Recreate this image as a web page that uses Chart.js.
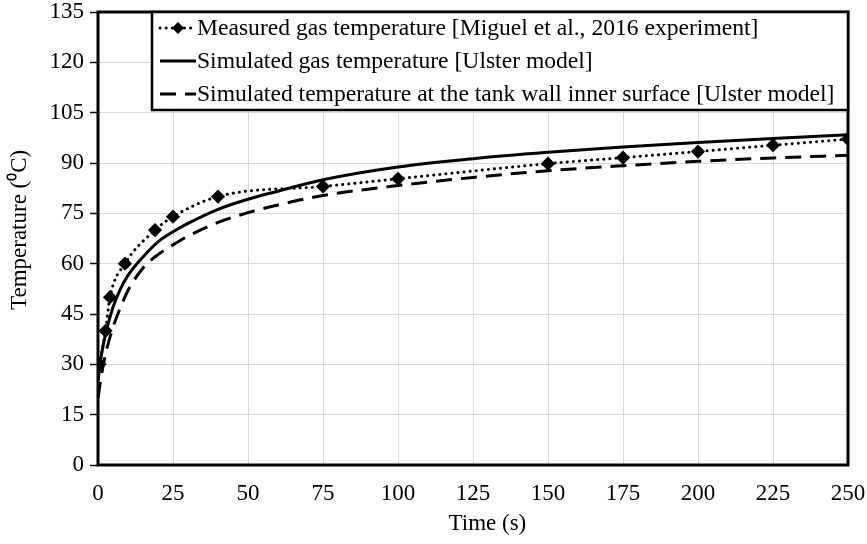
<!DOCTYPE html>
<html>
<head>
<meta charset="utf-8">
<script src="https://cdn.jsdelivr.net/npm/chart.js@4"></script>
<style>
  html, body { margin: 0; padding: 0; background: #fff; }
  #wrap { width: 867px; height: 544px; }
</style>
</head>
<body>
<div id="wrap"><canvas id="tempChart" width="867" height="544"></canvas></div>
<script>
// measured points (Miguel et al., 2016)
const measTime = [0.5, 2.5, 4, 9, 19, 25, 40, 75, 100, 150, 175, 200, 225, 250];
const measTemp = [30, 40, 50, 60, 70, 74, 80, 83, 85.3, 89.8, 91.6, 93.4, 95.3, 97.1];

// Ulster model curves
const simTime = [0, 1, 2.5, 5, 7.5, 10, 15, 20, 25, 30, 40, 50, 60, 75, 100, 125, 150, 175, 200, 225, 250];
const simGas  = [25, 32, 39, 47, 52.5, 56.5, 62, 66.5, 69.5, 72, 76.2, 79.2, 81.6, 85, 88.8, 91.3, 93.2, 94.8, 96.1, 97.3, 98.4];
const simWall = [20, 26, 33, 41, 47, 52, 58.7, 62.7, 65.6, 68.2, 72.3, 75.2, 77.5, 80.3, 83.3, 85.7, 87.7, 89.2, 90.5, 91.5, 92.3];

const seriesNames = [
    'Measured gas temperature [Miguel et al., 2016 experiment]',
    'Simulated gas temperature [Ulster model]',
    'Simulated temperature at the tank wall inner surface [Ulster model]'
];

const FONT = "'Liberation Serif', 'Times New Roman', serif";

function pairs(xs, ys) {
    return xs.map((x, i) => ({ x: x, y: ys[i] }));
}

// frame around the plot area
const frameBox = {
    id: 'frameBox',
    afterDatasetsDraw(chart) {
        const a = chart.chartArea, ctx = chart.ctx;
        ctx.save();
        ctx.strokeStyle = '#000';
        ctx.lineWidth = 3;
        ctx.strokeRect(a.left, a.top, a.right - a.left, a.bottom - a.top);
        ctx.restore();
    }
};

// legend box sitting inside the plot, top right
const boxLegend = {
    id: 'boxLegend',
    afterDraw(chart) {
        const ctx = chart.ctx, a = chart.chartArea;
        const x0 = 152, y0 = a.top, x1 = a.right, y1 = 110;
        ctx.save();
        ctx.fillStyle = '#fff';
        ctx.fillRect(x0, y0, x1 - x0, y1 - y0);
        ctx.strokeStyle = '#000';
        ctx.lineWidth = 2.5;
        ctx.strokeRect(x0, y0, x1 - x0, y1 - y0);
        ctx.font = '23.6px ' + FONT;
        ctx.textBaseline = 'middle';
        ctx.fillStyle = '#000';
        const rows = [28, 61, 94];
        chart.data.datasets.forEach((ds, i) => {
            const y = rows[i];
            ctx.strokeStyle = '#000';
            ctx.lineWidth = ds.borderWidth;
            ctx.setLineDash(ds.borderDash || []);
            ctx.lineCap = ds.borderCapStyle || 'butt';
            ctx.beginPath();
            ctx.moveTo(160, y);
            ctx.lineTo(196, y);
            ctx.stroke();
            ctx.setLineDash([]);
            if (ds.pointRadius > 0) {
                const r = ds.pointRadius + 1;
                ctx.beginPath();
                ctx.moveTo(178, y - r);
                ctx.lineTo(178 + r, y);
                ctx.lineTo(178, y + r);
                ctx.lineTo(178 - r, y);
                ctx.closePath();
                ctx.fill();
            }
            ctx.fillText(ds.label, 197, y + 1);
        });
        ctx.restore();
    }
};

const ctx = document.getElementById('tempChart').getContext('2d');
new Chart(ctx, {
    type: 'line',
    data: {
        datasets: [{
            label: seriesNames[0],
            data: pairs(measTime, measTemp),
            borderColor: '#000',
            backgroundColor: '#000',
            borderWidth: 3,
            borderDash: [0.1, 6],
            borderCapStyle: 'round',
            pointStyle: 'rectRot',
            pointRadius: 5,
            cubicInterpolationMode: 'monotone'
        }, {
            label: seriesNames[1],
            data: pairs(simTime, simGas),
            borderColor: '#000',
            borderWidth: 3,
            pointRadius: 0,
            cubicInterpolationMode: 'monotone'
        }, {
            label: seriesNames[2],
            data: pairs(simTime, simWall),
            borderColor: '#000',
            borderWidth: 3,
            borderDash: [16, 9],
            pointRadius: 0,
            cubicInterpolationMode: 'monotone'
        }]
    },
    options: {
        responsive: false,
        animation: false,
        layout: { padding: { left: 0, top: 12, right: 19, bottom: 0 } },
        plugins: {
            legend: { display: false },
            tooltip: { enabled: false }
        },
        scales: {
            x: {
                type: 'linear',
                min: 0,
                max: 250,
                ticks: {
                    stepSize: 25,
                    color: '#000',
                    font: { family: FONT, size: 23 },
                    padding: 15,
                    maxRotation: 0
                },
                grid: { color: '#d9d9d9', drawTicks: false },
                border: { display: false },
                title: {
                    display: true,
                    text: '     Time (s)',
                    color: '#000',
                    font: { family: FONT, size: 23 },
                    padding: { top: 0, bottom: 6 }
                },
                afterFit(scale) {
                    scale.height = 79;
                    scale.paddingLeft = 0;
                    scale.paddingRight = 0;
                }
            },
            y: {
                min: 0,
                max: 135,
                ticks: {
                    stepSize: 15,
                    color: '#000',
                    font: { family: FONT, size: 23 },
                    padding: 6
                },
                grid: { color: '#d9d9d9', tickLength: 8, tickColor: '#000', tickWidth: 1.5 },
                border: { display: false },
                title: {
                    display: true,
                    text: '   Temperature (\u2070C)',
                    color: '#000',
                    font: { family: FONT, size: 23 },
                    padding: { top: 6, bottom: 0 }
                },
                afterFit(scale) {
                    scale.width = 98;
                    scale.paddingTop = 0;
                    scale.paddingBottom = 0;
                }
            }
        }
    },
    plugins: [frameBox, boxLegend]
});
</script>
</body>
</html>
